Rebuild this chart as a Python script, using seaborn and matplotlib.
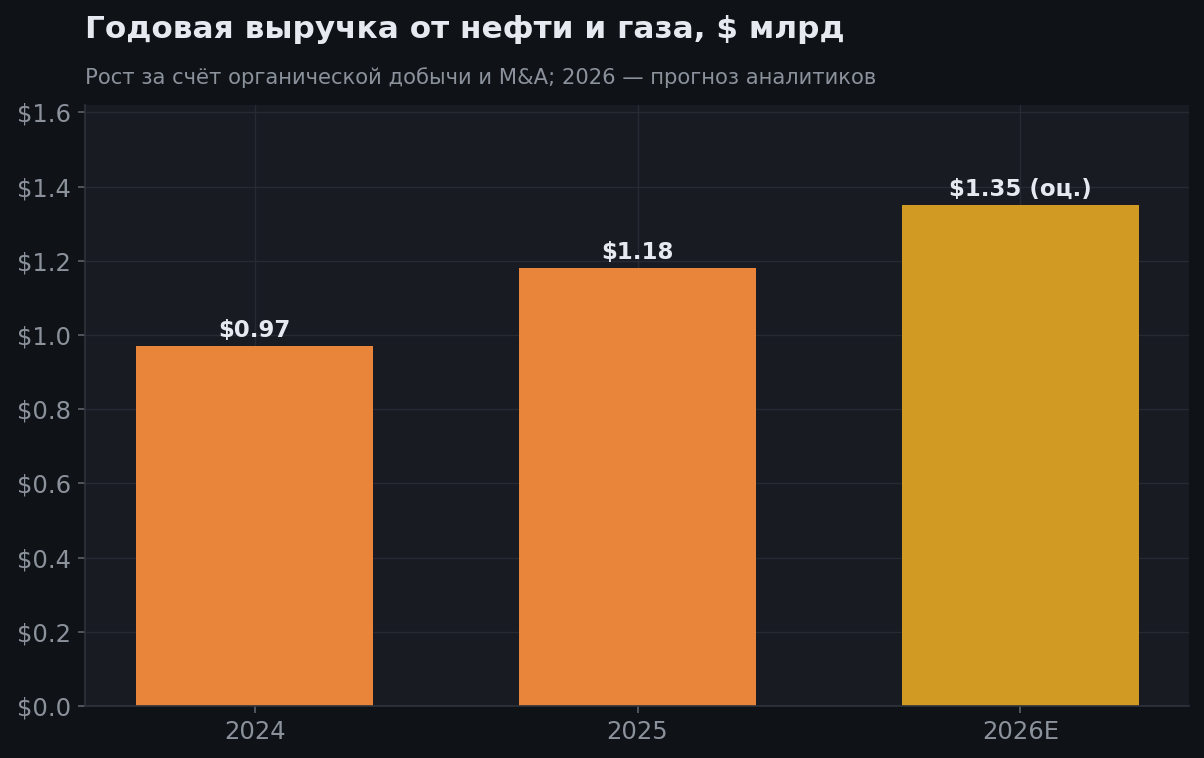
import matplotlib
matplotlib.use("Agg")
import matplotlib.pyplot as plt
import pandas as pd
import seaborn as sns

years = ["2024", "2025", "2026E"]
revenue = [0.97, 1.18, 1.35]
labels = ["$0.97", "$1.18", "$1.35 (оц.)"]
bar_colors = ["#E8853A", "#E8853A", "#D19A22"]
yticks = [0.0, 0.2, 0.4, 0.6, 0.8, 1.0, 1.2, 1.4, 1.6]

title = "Годовая выручка от нефти и газа, $ млрд"
subtitle = "Рост за счёт органической добычи и M&A; 2026 — прогноз аналитиков"

fig_bg = "#0f1317"
ax_bg = "#181b22"
grid_c = "#252a33"
muted = "#8b929c"

sns.set_theme(style="dark")
plt.rcParams["font.family"] = ["DejaVu Sans"]

df = pd.DataFrame({"year": years, "revenue": revenue})

fig = plt.figure(figsize=(12.04, 7.58), dpi=100, facecolor=fig_bg)
ax = fig.add_axes([0.0706, 0.0686, 0.9169, 0.7929])
ax.set_facecolor(ax_bg)

sns.barplot(data=df, x="year", y="revenue", hue="year",
            palette=dict(zip(years, bar_colors)), width=0.62,
            legend=False, ax=ax, saturation=1, linewidth=0)

for i, (v, lab) in enumerate(zip(revenue, labels)):
    ax.text(i, v + 0.012, lab, ha="center", va="bottom",
            fontsize=16.5, fontweight="bold", color="#e6eaf0")

ax.set_ylim(0, 1.62)
ax.set_xlim(-0.443, 2.44)
ax.set_yticks(yticks)
ax.set_yticklabels([f"${t:.1f}" for t in yticks])
ax.set_xlabel("")
ax.set_ylabel("")

ax.grid(True, color=grid_c, linewidth=1)
ax.set_axisbelow(True)
for s in ["top", "right"]:
    ax.spines[s].set_visible(False)
for s in ["left", "bottom"]:
    ax.spines[s].set_color("#2e333c")
    ax.spines[s].set_linewidth(1.2)

ax.tick_params(axis="both", colors="#5c626b", labelcolor=muted,
               labelsize=17.5, length=5, width=1.2, bottom=True,
               left=True, pad=5)

fig.text(0.0706, 0.950, title, fontsize=22.4, fontweight="bold",
         color="#e6eaf0", ha="left", va="baseline")
fig.text(0.0706, 0.889, subtitle, fontsize=15.2, color=muted,
         ha="left", va="baseline")

fig.savefig("out.png", dpi=100, facecolor=fig_bg)
